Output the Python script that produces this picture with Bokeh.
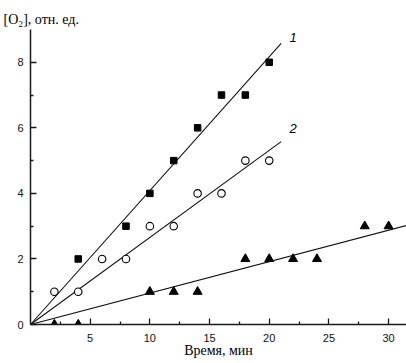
from bokeh.plotting import figure
from bokeh.models import Range1d, FixedTicker, Label, Title
from bokeh.embed import file_html
from bokeh.resources import INLINE

# Series 1 (squares)
s1_x = [4, 8, 10, 12, 14, 16, 18, 20]
s1_y = [2, 3, 4, 5, 6, 7, 7, 8]
# Series 2 (open circles)
s2_x = [2, 4, 6, 8, 10, 12, 14, 16, 18, 20]
s2_y = [1, 1, 2, 2, 3, 3, 4, 4, 5, 5]
# Series 3 (triangles)
s3_x = [2, 4, 10, 12, 14, 18, 20, 22, 24, 28, 30]
s3_y = [0, 0, 1, 1, 1, 2, 2, 2, 2, 3, 3]
# Fitted lines through origin
fit1_x = [0, 21.0]
fit1_y = [0, 8.58]
fit2_x = [0, 21.0]
fit2_y = [0, 5.58]
fit3_x = [0, 31.5]
fit3_y = [0, 3.02]

x_ticks = [5, 10, 15, 20, 25, 30]
x_minor = [2.5, 7.5, 12.5, 17.5, 22.5, 27.5]
y_ticks = [0, 2, 4, 6, 8]
y_minor = [1, 3, 5, 7]

serif = "Liberation Serif"

p = figure(width=406, height=363, output_backend="svg", toolbar_location=None,
           x_range=Range1d(0, 31.5), y_range=Range1d(0, 9),
           min_border_left=30, min_border_right=0, min_border_top=29, min_border_bottom=39)
p.outline_line_color = None
p.xgrid.visible = False
p.ygrid.visible = False
p.background_fill_color = "white"
p.border_fill_color = "white"

p.title = Title(text="[O\u2082], отн. ед.", text_font=serif, text_font_size="14px",
                text_font_style="normal", text_color="black", align="left",
                offset=-27, standoff=6)

for ax, maj, mnr in ((p.xaxis[0], x_ticks, x_minor), (p.yaxis[0], y_ticks, y_minor)):
    ax.ticker = FixedTicker(ticks=maj, minor_ticks=mnr)
    ax.axis_line_width = 1.5
    ax.axis_line_color = "#1a1a1a"
    ax.major_tick_in = 6
    ax.major_tick_out = 0
    ax.minor_tick_in = 3
    ax.minor_tick_out = 0
    ax.major_tick_line_color = "#1a1a1a"
    ax.minor_tick_line_color = "#1a1a1a"
    ax.major_tick_line_width = 1.3
    ax.minor_tick_line_width = 1.3
    ax.major_label_text_font = "Liberation Sans"
    ax.major_label_text_font_size = "11px"
    ax.major_label_text_color = "#111111"
    ax.major_label_standoff = 7
p.yaxis[0].bounds = (0, 9)
p.xaxis[0].major_label_standoff = 9
p.xaxis[0].axis_label = "Время, мин"
p.xaxis[0].axis_label_text_font = serif
p.xaxis[0].axis_label_text_font_size = "14px"
p.xaxis[0].axis_label_text_font_style = "normal"
p.xaxis[0].axis_label_text_color = "black"
p.xaxis[0].axis_label_standoff = -2

lc = "#111111"
p.line(fit1_x, fit1_y, line_color=lc, line_width=1.1)
p.line(fit2_x, fit2_y, line_color=lc, line_width=1.1)
p.line(fit3_x, fit3_y, line_color=lc, line_width=1.1)

p.scatter(s1_x, s1_y, marker="square", size=6.5, fill_color="black", line_color="black")
p.scatter(s2_x, s2_y, marker="circle", size=7.5, fill_color="white", line_color="black", line_width=1.1)
p.scatter(s3_x, s3_y, marker="triangle", size=9, fill_color="black", line_color="black")

p.add_layout(Label(x=22.0, y=8.75, text="1", text_font="Liberation Sans",
                   text_font_style="italic", text_font_size="13px", text_align="center",
                   text_baseline="middle", text_color="black"))
p.add_layout(Label(x=22.0, y=5.98, text="2", text_font="Liberation Sans",
                   text_font_style="italic", text_font_size="13px", text_align="center",
                   text_baseline="middle", text_color="black"))

open("out.html", "w").write(file_html(p, INLINE))
